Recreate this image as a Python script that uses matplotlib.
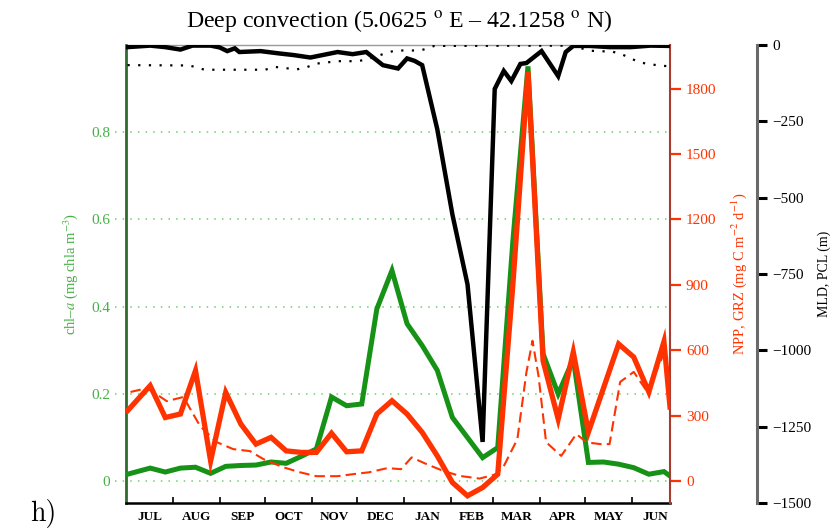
import matplotlib
matplotlib.use('Agg')
import matplotlib.pyplot as plt
import matplotlib.transforms as mtransforms

plt.rcParams['font.family'] = ['Liberation Serif', 'DejaVu Serif']
plt.rcParams['mathtext.fontset'] = 'stix'

# time axis in days from 1 July
month_edges = [31, 62, 92, 123, 153, 184, 215, 243, 274, 304, 335]
month_mid = [15.5, 46.5, 77, 107.5, 138, 168.5, 199.5, 229, 258.5, 289, 319.5, 350]
month_names = ['JUL', 'AUG', 'SEP', 'OCT', 'NOV', 'DEC',
               'JAN', 'FEB', 'MAR', 'APR', 'MAY', 'JUN']

# chl-a and NPP on the 10-day grid
day = [1, 16, 26, 36, 46, 56, 66, 76, 86, 96, 106, 116, 126, 136, 146, 156,
       166, 176, 186, 196, 206, 216, 226, 236, 246, 256, 266, 276, 286, 296,
       306, 316, 326, 336, 346, 356, 360]
chl = [0.016, 0.030, 0.021, 0.030, 0.032, 0.018, 0.034, 0.036, 0.037, 0.044,
       0.041, 0.057, 0.074, 0.193, 0.173, 0.177, 0.395, 0.483, 0.361, 0.311,
       0.254, 0.146, 0.100, 0.054, 0.077, 0.55, 0.951, 0.292, 0.200, 0.28,
       0.043, 0.044, 0.039, 0.031, 0.016, 0.022, 0.012]
npp = [323, 438, 292, 308, 507, 93, 407, 262, 170, 201, 139, 132, 132, 220,
       135, 139, 308, 369, 308, 224, 116, -6, -67, -29, 32, 900, 1877, 552,
       285, 592, 225, 427, 629, 569, 409, 640, 340]

# grazing
grz_day = [3, 14, 27, 38, 49, 60, 71, 82, 91, 104, 115, 126, 140, 150, 161,
           173, 182, 189, 199, 210, 221, 234, 245, 250, 259, 265, 269, 273,
           278, 288, 298, 305, 314, 320, 327, 336, 345, 355, 360]
grz = [409, 427, 367, 386, 253, 179, 147, 138, 101, 64, 41, 23, 23, 32, 41,
       60, 55, 109, 78, 47, 24, 12, 32, 69, 193, 500, 644, 482, 179, 116, 216,
       178, 170, 170, 455, 501, 409, 570, 560]

# mixed layer depth
mld_day = [1, 16, 26, 36, 44, 56, 62, 67, 72, 75, 89, 102, 111, 122, 130, 140,
           150, 159, 170, 180, 186, 191, 196, 206, 216, 226, 236, 244, 250,
           255, 261, 265, 275, 286, 291, 296, 307, 320, 334, 347, 360]
mld = [-7, -2, -7, -15, -2, -2, -8, -20, -11, -23, -20, -28, -33, -41, -33,
       -23, -30, -23, -66, -77, -44, -52, -66, -276, -555, -784, -1300, -144,
       -85, -118, -62, -59, -20, -102, -23, -3, -3, -7, -7, -2, -3]

# productive column layer
pcl_day = [1, 42, 52, 92, 99, 113, 120, 126, 140, 153, 159, 170, 178, 195,
           204, 294, 308, 322, 328, 334, 340, 348, 355, 360]
pcl = [-66, -67, -81, -81, -72, -80, -72, -61, -53, -53, -48, -30, -18, -18,
       -3, -2, -19, -22, -30, -44, -57, -64, -68, -70]

GREEN = '#169216'
GREEN_TXT = '#46b046'
GRID = '#6fcf6f'
RED = '#ff3300'

fig = plt.figure(figsize=(8.33, 5.31), dpi=100)
ax = fig.add_axes([126 / 833, 1 - 503 / 531, 544 / 833, 458 / 531])
ax2 = ax.twinx()
ax3 = ax.twinx()

# --- chl-a axis (left) ---
ax.set_xlim(0, 360)
ax.set_ylim(-0.05, 1.0)
yt = [0, 0.2, 0.4, 0.6, 0.8]
ax.set_yticks(yt)
ax.set_yticklabels(['0', '0.2', '0.4', '0.6', '0.8'])
ax.tick_params(axis='y', length=0, pad=11.5, labelcolor=GREEN_TXT, labelsize=11)
trans = mtransforms.blended_transform_factory(ax.transAxes, ax.transData)
for y in yt:
    ax.plot([-0.02, 1], [y, y], transform=trans, color=GRID, lw=1.1,
            ls=(0, (1, 4)), clip_on=False, zorder=1)
ax.plot(day, chl, color=GREEN, lw=3.6, solid_joinstyle='miter', zorder=3)
ax.set_ylabel(r'chl–$a$ (mg chla m$^{-3}$)', color=GREEN_TXT, fontsize=10.5)
ax.yaxis.set_label_coords(-0.085, 0.5)

ax.set_xticks(month_edges)
ax.set_xticklabels([])
ax.tick_params(axis='x', which='major', direction='in', length=4.5, width=1.2)
ax.set_xticks(month_mid, minor=True)
ax.set_xticklabels(month_names, minor=True, fontweight='bold', fontsize=9.5)
ax.tick_params(axis='x', which='minor', length=0, pad=6)

ax.spines['left'].set_color('#2f6b2f')
ax.spines['left'].set_linewidth(2)
ax.spines['bottom'].set_linewidth(1.8)
ax.spines['top'].set_color('#999999')
ax.spines['top'].set_linewidth(1)
ax.spines['right'].set_visible(False)

# --- NPP / GRZ axis (right, red) ---
ax2.set_ylim(-100, 2000)
ax2.set_yticks(range(0, 1801, 300))
ax2.tick_params(axis='y', direction='out', length=8, width=1.6, color=RED,
                labelcolor=RED, labelsize=11, pad=3.5)
ax2.plot(grz_day, grz, color=RED, lw=1.5, ls=(0, (5, 2.5)), zorder=2)
ax2.plot(day, npp, color=RED, lw=3.8, solid_joinstyle='miter', zorder=3)
ax2.set_ylabel(r'NPP, GRZ (mg C m$^{-2}$ d$^{-1}$)', color=RED, fontsize=10.5)
ax2.yaxis.set_label_coords(1.11, 0.5)
for s in ['left', 'top', 'bottom']:
    ax2.spines[s].set_visible(False)
ax2.spines['right'].set_color('#a83a30')
ax2.spines['right'].set_linewidth(1.5)

# --- MLD / PCL axis (offset, black) ---
ax3.set_ylim(-1500, 0)
ax3.set_yticks(range(-1500, 1, 250))
ax3.spines['right'].set_position(('axes', 1.16))
ax3.spines['right'].set_color('#6a6a6a')
ax3.spines['right'].set_linewidth(2.2)
for s in ['left', 'top', 'bottom']:
    ax3.spines[s].set_visible(False)
ax3.tick_params(axis='y', direction='out', length=7, width=2.2, color='black',
                labelsize=11, pad=4)
ax3.plot(pcl_day, pcl, color='black', lw=1.6, ls=(0, (1, 3.8)), zorder=2)
ax3.plot(mld_day, mld, color='black', lw=3.2, solid_joinstyle='miter', zorder=3)
ax3.set_ylabel('MLD, PCL (m)', fontsize=10)
ax3.yaxis.set_label_coords(1.272, 0.5)

fig.text(399 / 833, 1 - 21 / 531,
         r'Deep convection (5.0625 $^{\rm o}$ E – 42.1258 $^{\rm o}$ N)',
         ha='center', va='center', fontsize=17.2)
fig.text(30 / 833, 1 - 514 / 531, 'h)', ha='left', va='center', fontsize=20,
         family=['cmr10', 'DejaVu Serif'])

fig.savefig('out.png', dpi=100)
